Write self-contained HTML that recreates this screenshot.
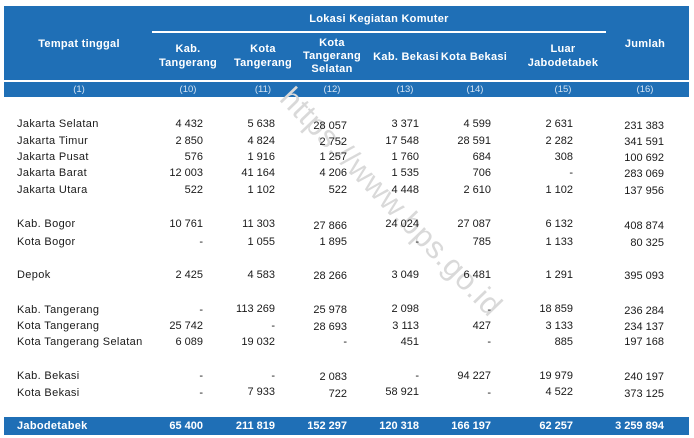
<!DOCTYPE html>
<html>
<head>
<meta charset="utf-8">
<style>
  html, body { margin:0; padding:0; }
  body { width:694px; height:438px; background:#fff; position:relative; overflow:hidden;
         font-family:"Liberation Sans", Arial, sans-serif; }
  .abs { position:absolute; white-space:nowrap; }
  .hdr { position:absolute; left:4px; top:6px; width:685px; height:74px; background:#1f6fb6; }
  .hdrline { position:absolute; left:4px; top:80px; width:685px; height:2px; background:#fff; }
  .numrow { position:absolute; left:4px; top:82px; width:685px; height:15px; background:#1f6fb6; }
  .sep { position:absolute; left:152px; top:31px; width:454px; height:2px; background:#fff; }
  .ht { position:absolute; color:#fff; font-weight:bold; font-size:11px; letter-spacing:0.3px;
        text-align:center; line-height:13.5px; transform:translateX(-50%); white-space:nowrap; }
  .nt { position:absolute; color:#d4e3f2; font-size:9.5px; top:83px; line-height:14px;
        transform:translateX(-50%); white-space:nowrap; }
  .lbl { position:absolute; left:17px; font-size:11px; letter-spacing:0.35px; color:#1a1a1a;
         line-height:14px; white-space:nowrap; }
  .v { position:absolute; font-size:11px; color:#1a1a1a; line-height:14px; white-space:nowrap;
       transform:translateX(-100%); }
  .tot { position:absolute; left:4px; top:417px; width:685px; height:18px; background:#1f6fb6; }
  .tv { position:absolute; font-size:11px; font-weight:bold; color:#fff; line-height:14px; top:419px;
        white-space:nowrap; transform:translateX(-100%); }
  .wm { position:absolute; left:391px; top:202px; font-size:31px; color:#d9d9d9;
        transform:translate(-50%,-50%) rotate(46deg); white-space:nowrap; letter-spacing:0.5px; }
</style>
</head>
<body>
<div class="hdr"></div>
<div class="sep"></div>
<div class="hdrline"></div>
<div class="numrow"></div>

<div class="ht" style="left:379px; top:13px;">Lokasi Kegiatan Komuter</div>
<div class="ht" style="left:79px; top:38px;">Tempat tinggal</div>
<div class="ht" style="left:188px; top:43px;">Kab.<br>Tangerang</div>
<div class="ht" style="left:263px; top:43px;">Kota<br>Tangerang</div>
<div class="ht" style="left:332px; top:37px; line-height:12.8px;">Kota<br>Tangerang<br>Selatan</div>
<div class="ht" style="left:406px; top:51px;">Kab. Bekasi</div>
<div class="ht" style="left:474px; top:51px;">Kota Bekasi</div>
<div class="ht" style="left:563px; top:43px;">Luar<br>Jabodetabek</div>
<div class="ht" style="left:645px; top:38px;">Jumlah</div>

<div class="nt" style="left:79px;">(1)</div>
<div class="nt" style="left:188px;">(10)</div>
<div class="nt" style="left:263px;">(11)</div>
<div class="nt" style="left:332px;">(12)</div>
<div class="nt" style="left:405px;">(13)</div>
<div class="nt" style="left:475px;">(14)</div>
<div class="nt" style="left:563px;">(15)</div>
<div class="nt" style="left:645px;">(16)</div>

<div class="wm">https://www.bps.go.id</div>

<!-- Labels -->
<div class="lbl" style="top:117px;">Jakarta Selatan</div>
<div class="lbl" style="top:134px;">Jakarta Timur</div>
<div class="lbl" style="top:150px;">Jakarta Pusat</div>
<div class="lbl" style="top:166px;">Jakarta Barat</div>
<div class="lbl" style="top:183px;">Jakarta Utara</div>
<div class="lbl" style="top:217px;">Kab. Bogor</div>
<div class="lbl" style="top:235px;">Kota Bogor</div>
<div class="lbl" style="top:268px;">Depok</div>
<div class="lbl" style="top:303px;">Kab. Tangerang</div>
<div class="lbl" style="top:319px;">Kota Tangerang</div>
<div class="lbl" style="top:335px;">Kota Tangerang Selatan</div>
<div class="lbl" style="top:369px;">Kab. Bekasi</div>
<div class="lbl" style="top:386px;">Kota Bekasi</div>

<!-- Row: Jakarta Selatan -->
<div class="v" style="top:117px; left:203px;">4 432</div>
<div class="v" style="top:117px; left:275px;">5 638</div>
<div class="v" style="top:119px; left:347px;">28 057</div>
<div class="v" style="top:117px; left:419px;">3 371</div>
<div class="v" style="top:117px; left:491px;">4 599</div>
<div class="v" style="top:117px; left:573px;">2 631</div>
<div class="v" style="top:119px; left:664px;">231 383</div>
<!-- Jakarta Timur -->
<div class="v" style="top:134px; left:203px;">2 850</div>
<div class="v" style="top:134px; left:275px;">4 824</div>
<div class="v" style="top:135px; left:347px;">2 752</div>
<div class="v" style="top:134px; left:419px;">17 548</div>
<div class="v" style="top:134px; left:491px;">28 591</div>
<div class="v" style="top:134px; left:573px;">2 282</div>
<div class="v" style="top:135px; left:664px;">341 591</div>
<!-- Jakarta Pusat -->
<div class="v" style="top:150px; left:203px;">576</div>
<div class="v" style="top:150px; left:275px;">1 916</div>
<div class="v" style="top:150px; left:347px;">1 257</div>
<div class="v" style="top:150px; left:419px;">1 760</div>
<div class="v" style="top:150px; left:491px;">684</div>
<div class="v" style="top:150px; left:573px;">308</div>
<div class="v" style="top:151px; left:664px;">100 692</div>
<!-- Jakarta Barat -->
<div class="v" style="top:166px; left:203px;">12 003</div>
<div class="v" style="top:166px; left:275px;">41 164</div>
<div class="v" style="top:166px; left:347px;">4 206</div>
<div class="v" style="top:166px; left:419px;">1 535</div>
<div class="v" style="top:166px; left:491px;">706</div>
<div class="v" style="top:166px; left:573px;">-</div>
<div class="v" style="top:167px; left:664px;">283 069</div>
<!-- Jakarta Utara -->
<div class="v" style="top:183px; left:203px;">522</div>
<div class="v" style="top:183px; left:275px;">1 102</div>
<div class="v" style="top:183px; left:347px;">522</div>
<div class="v" style="top:183px; left:419px;">4 448</div>
<div class="v" style="top:183px; left:491px;">2 610</div>
<div class="v" style="top:183px; left:573px;">1 102</div>
<div class="v" style="top:184px; left:664px;">137 956</div>
<!-- Kab. Bogor -->
<div class="v" style="top:217px; left:203px;">10 761</div>
<div class="v" style="top:217px; left:275px;">11 303</div>
<div class="v" style="top:219px; left:347px;">27 866</div>
<div class="v" style="top:217px; left:419px;">24 024</div>
<div class="v" style="top:217px; left:491px;">27 087</div>
<div class="v" style="top:217px; left:573px;">6 132</div>
<div class="v" style="top:219px; left:664px;">408 874</div>
<!-- Kota Bogor -->
<div class="v" style="top:235px; left:203px;">-</div>
<div class="v" style="top:235px; left:275px;">1 055</div>
<div class="v" style="top:235px; left:347px;">1 895</div>
<div class="v" style="top:235px; left:419px;">-</div>
<div class="v" style="top:235px; left:491px;">785</div>
<div class="v" style="top:235px; left:573px;">1 133</div>
<div class="v" style="top:236px; left:664px;">80 325</div>
<!-- Depok -->
<div class="v" style="top:268px; left:203px;">2 425</div>
<div class="v" style="top:268px; left:275px;">4 583</div>
<div class="v" style="top:269px; left:347px;">28 266</div>
<div class="v" style="top:268px; left:419px;">3 049</div>
<div class="v" style="top:268px; left:491px;">6 481</div>
<div class="v" style="top:268px; left:573px;">1 291</div>
<div class="v" style="top:269px; left:664px;">395 093</div>
<!-- Kab. Tangerang -->
<div class="v" style="top:303px; left:203px;">-</div>
<div class="v" style="top:302px; left:275px;">113 269</div>
<div class="v" style="top:303px; left:347px;">25 978</div>
<div class="v" style="top:302px; left:419px;">2 098</div>
<div class="v" style="top:303px; left:491px;">-</div>
<div class="v" style="top:302px; left:573px;">18 859</div>
<div class="v" style="top:304px; left:664px;">236 284</div>
<!-- Kota Tangerang -->
<div class="v" style="top:319px; left:203px;">25 742</div>
<div class="v" style="top:319px; left:275px;">-</div>
<div class="v" style="top:320px; left:347px;">28 693</div>
<div class="v" style="top:319px; left:419px;">3 113</div>
<div class="v" style="top:319px; left:491px;">427</div>
<div class="v" style="top:319px; left:573px;">3 133</div>
<div class="v" style="top:320px; left:664px;">234 137</div>
<!-- Kota Tangerang Selatan -->
<div class="v" style="top:335px; left:203px;">6 089</div>
<div class="v" style="top:335px; left:275px;">19 032</div>
<div class="v" style="top:335px; left:347px;">-</div>
<div class="v" style="top:335px; left:419px;">451</div>
<div class="v" style="top:335px; left:491px;">-</div>
<div class="v" style="top:335px; left:573px;">885</div>
<div class="v" style="top:335px; left:664px;">197 168</div>
<!-- Kab. Bekasi -->
<div class="v" style="top:369px; left:203px;">-</div>
<div class="v" style="top:369px; left:275px;">-</div>
<div class="v" style="top:370px; left:347px;">2 083</div>
<div class="v" style="top:369px; left:419px;">-</div>
<div class="v" style="top:369px; left:491px;">94 227</div>
<div class="v" style="top:369px; left:573px;">19 979</div>
<div class="v" style="top:370px; left:664px;">240 197</div>
<!-- Kota Bekasi -->
<div class="v" style="top:386px; left:203px;">-</div>
<div class="v" style="top:385px; left:275px;">7 933</div>
<div class="v" style="top:387px; left:347px;">722</div>
<div class="v" style="top:385px; left:419px;">58 921</div>
<div class="v" style="top:386px; left:491px;">-</div>
<div class="v" style="top:385px; left:573px;">4 522</div>
<div class="v" style="top:387px; left:664px;">373 125</div>

<!-- Total -->
<div class="tot"></div>
<div class="abs" style="left:17px; top:419px; font-size:11px; font-weight:bold; color:#fff; line-height:14px; letter-spacing:0.3px;">Jabodetabek</div>
<div class="tv" style="left:203px;">65 400</div>
<div class="tv" style="left:275px;">211 819</div>
<div class="tv" style="left:347px;">152 297</div>
<div class="tv" style="left:419px;">120 318</div>
<div class="tv" style="left:491px;">166 197</div>
<div class="tv" style="left:573px;">62 257</div>
<div class="tv" style="left:664px;">3 259 894</div>
</body>
</html>
